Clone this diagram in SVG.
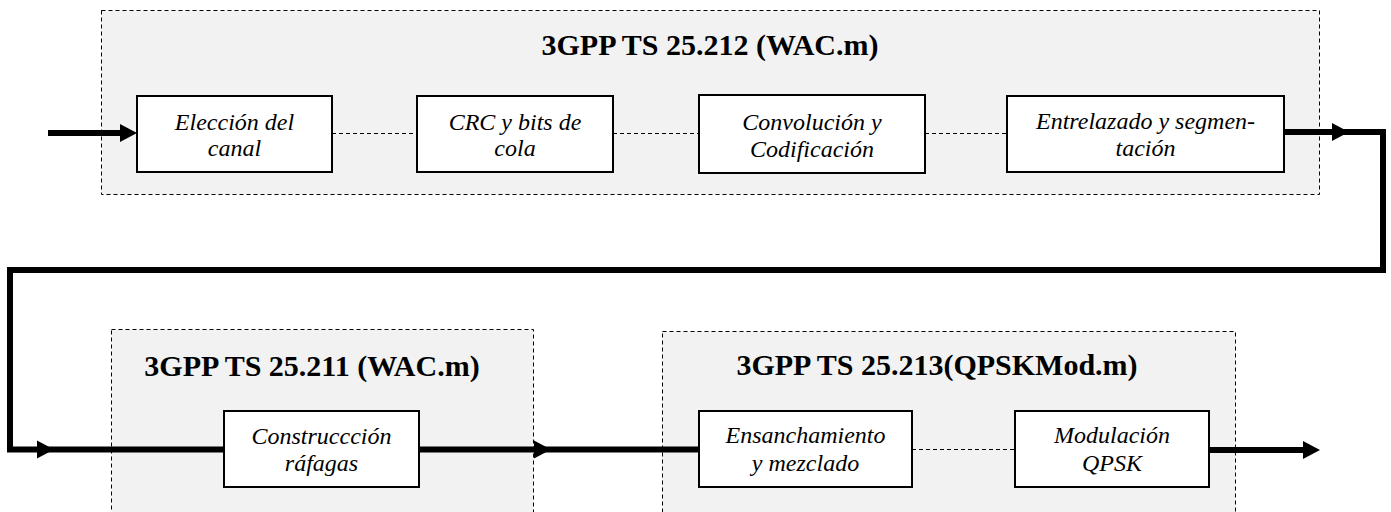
<svg xmlns="http://www.w3.org/2000/svg" width="1391" height="512" viewBox="0 0 1391 512">
<style>
.cont{fill:#f2f2f2;stroke:#000;stroke-width:1;stroke-dasharray:4,3}
.box{fill:#fff;stroke:#000;stroke-width:2}
.title{font-family:'Liberation Serif',serif;font-weight:bold;font-size:30px;text-anchor:middle;fill:#000}
.lbl{font-family:'Liberation Serif',serif;font-style:italic;font-size:24px;text-anchor:middle;fill:#000}
.dash{fill:none;stroke:#000;stroke-width:1;stroke-dasharray:4,3}
.thick{fill:none;stroke:#000;stroke-width:6;stroke-linejoin:miter;stroke-linecap:butt}
</style>
<defs>
<polygon id="ah" points="0,0 -17,-9 -17,9" fill="#000"/>
</defs>
<rect width="1391" height="512" fill="#fff"/>
<g id="group-25212">
<rect class="cont" x="101.5" y="10.5" width="1218" height="184"/>
<text class="title" x="710" y="55">3GPP TS 25.212 (WAC.m)</text>
</g>
<g id="group-25211">
<rect class="cont" x="111.5" y="329.5" width="422" height="200"/>
<text class="title" x="312" y="376">3GPP TS 25.211 (WAC.m)</text>
</g>
<g id="group-25213">
<rect class="cont" x="662.5" y="331.5" width="573" height="200"/>
<text class="title" x="937" y="375">3GPP TS 25.213(QPSKMod.m)</text>
</g>
<g id="connectors">
<path class="dash" d="M332,133.5 H417 M613,133.5 H699 M925,133.5 H1007 M912,449.5 H1015"/>
<path class="thick" d="M48,133 H122"/>
<use href="#ah" x="137" y="133"/>
<path class="thick" d="M1284,132 H1383 V270 H10 V449.5 H224"/>
<use href="#ah" x="1349" y="132"/>
<use href="#ah" x="54" y="449.5"/>
<path class="thick" d="M419,449.5 H699"/>
<use href="#ah" x="551" y="449.5"/>
<path class="thick" d="M1209,450 H1305"/>
<use href="#ah" x="1320" y="450"/>
</g>
<g id="node-eleccion">
<rect class="box" x="137" y="96" width="195" height="76"/>
<text class="lbl" x="234.5" y="130">Elección del</text>
<text class="lbl" x="234.5" y="156">canal</text>
</g>
<g id="node-crc">
<rect class="box" x="417" y="96" width="196" height="76"/>
<text class="lbl" x="515" y="130">CRC y bits de</text>
<text class="lbl" x="515" y="156">cola</text>
</g>
<g id="node-convolucion">
<rect class="box" x="699" y="95" width="226" height="78"/>
<text class="lbl" x="812" y="130">Convolución y</text>
<text class="lbl" x="812" y="157">Codificación</text>
</g>
<g id="node-entrelazado">
<rect class="box" x="1007" y="96" width="277" height="76"/>
<text class="lbl" x="1145.5" y="129">Entrelazado y segmen-</text>
<text class="lbl" x="1145.5" y="156">tación</text>
</g>
<g id="node-construccion">
<rect class="box" x="224" y="411" width="195" height="76"/>
<text class="lbl" x="321.5" y="444">Construccción</text>
<text class="lbl" x="321.5" y="471">ráfagas</text>
</g>
<g id="node-ensanchamiento">
<rect class="box" x="699" y="411" width="213" height="76"/>
<text class="lbl" x="805.5" y="443">Ensanchamiento</text>
<text class="lbl" x="805.5" y="471">y mezclado</text>
</g>
<g id="node-modulacion">
<rect class="box" x="1015" y="411" width="194" height="76"/>
<text class="lbl" x="1112" y="443">Modulación</text>
<text class="lbl" x="1112" y="471">QPSK</text>
</g>
</svg>
